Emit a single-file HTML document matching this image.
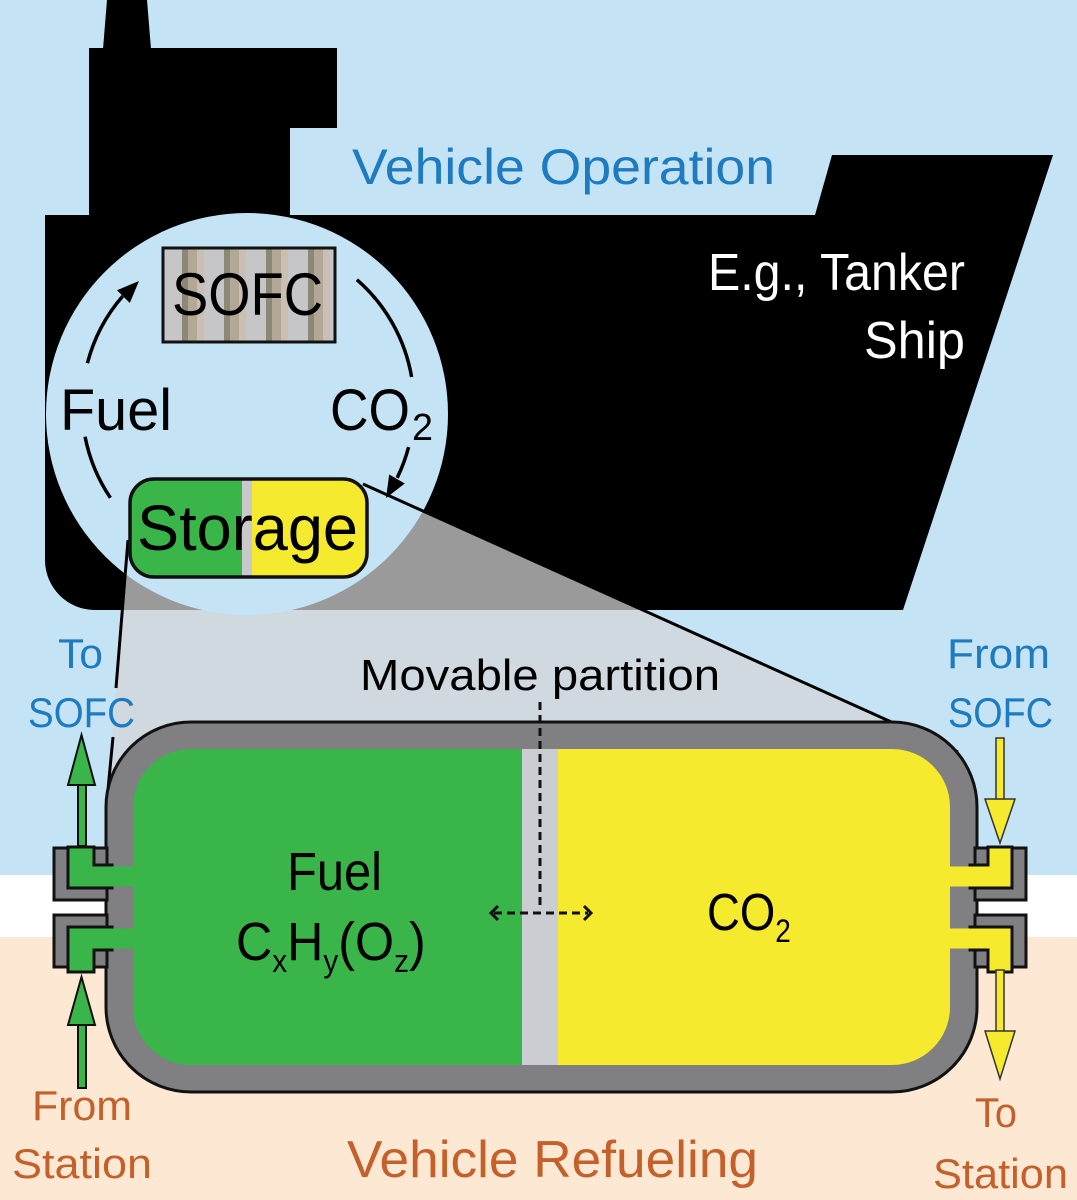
<!DOCTYPE html>
<html>
<head>
<meta charset="utf-8">
<style>
  html,body{margin:0;padding:0;background:#ffffff;}
  svg{display:block;}
  text{font-family:"Liberation Sans", sans-serif;}
</style>
</head>
<body>
<svg width="1077" height="1200" viewBox="0 0 1077 1200" xmlns="http://www.w3.org/2000/svg">
  <defs>
    <pattern id="stripes" x="162" y="0" width="42" height="200" patternUnits="userSpaceOnUse">
      <rect x="0" y="0" width="42" height="200" fill="#c6c6c8"/>
      <rect x="20" y="0" width="6" height="200" fill="#8c8877"/>
      <rect x="26" y="0" width="9" height="200" fill="#b3a795"/>
      <rect x="35" y="0" width="7" height="200" fill="#c9bfb2"/>
    </pattern>
    <clipPath id="hullclip"><rect x="0" y="0" width="1077" height="610"/></clipPath>
    <clipPath id="innerclip"><rect x="133" y="749" width="817" height="316" rx="58" ry="58"/></clipPath>
  </defs>

  <!-- background bands -->
  <rect x="0" y="0" width="1077" height="875" fill="#c4e4f5"/>
  <rect x="0" y="875" width="1077" height="62" fill="#ffffff"/>
  <rect x="0" y="937" width="1077" height="263" fill="#fde9d3"/>

  <!-- ship silhouette -->
  <polygon points="107,0 147,0 151,49 103,49" fill="#000"/>
  <path d="M89,48 H337 V128 H290 V216 H89 Z" fill="#000"/>
  <path d="M45,215 H815 L832,155 H1053 L903,610 H95 A50,50 0 0 1 45,560 Z" fill="#000"/>

  <!-- projection wedge -->
  <polygon points="127,545 363,484 958,752 900,765 107,805" fill="#d0d9df"/>
  <polygon points="127,545 363,484 958,752 900,765 107,805" fill="#9a9a9b" clip-path="url(#hullclip)"/>

  <!-- zoom circle -->
  <circle cx="247" cy="414" r="201" fill="#c4e4f5"/>

  <!-- cycle arcs -->
  <g fill="none" stroke="#000" stroke-width="3.5">
    <path d="M87.4,363.2 A166,166 0 0 1 122.7,296.1"/>
    <path d="M356.9,279.7 A166,166 0 0 1 411.6,377"/>
    <path d="M408.6,447.1 A166,166 0 0 1 397.2,477.8"/>
    <path d="M110.4,497.8 A166,166 0 0 1 85.05,436.7"/>
  </g>
  <polygon points="139,281 129.8,303 117,290.2" fill="#000"/>
  <polygon points="386,498 404.8,483.5 389.2,474.5" fill="#000"/>

  <!-- SOFC box -->
  <rect x="163" y="248" width="172" height="94" fill="url(#stripes)" stroke="#111" stroke-width="3"/>
  <text x="172" y="315" font-size="60" fill="#000" textLength="151" lengthAdjust="spacingAndGlyphs">SOFC</text>

  <!-- Fuel / CO2 labels in circle -->
  <text x="60" y="430" font-size="58" fill="#000" textLength="112" lengthAdjust="spacingAndGlyphs">Fuel</text>
  <text x="330" y="430" font-size="58" fill="#000" textLength="80" lengthAdjust="spacingAndGlyphs">CO</text>
  <text x="412" y="440" font-size="38" fill="#000" textLength="21" lengthAdjust="spacingAndGlyphs">2</text>

  <!-- projection lines -->
  <g stroke="#000" stroke-width="3" fill="none">
    <line x1="128" y1="540" x2="116" y2="688"/>
    <line x1="113" y1="737" x2="107" y2="800"/>
    <line x1="363" y1="484" x2="958" y2="752"/>
  </g>

  <!-- storage box -->
  <g>
    <clipPath id="storeclip"><rect x="130" y="479" width="237" height="98" rx="24" ry="24"/></clipPath>
    <g clip-path="url(#storeclip)">
      <rect x="130" y="479" width="112" height="98" fill="#3ab54a"/>
      <rect x="242" y="479" width="10" height="98" fill="#c9c9cb"/>
      <rect x="252" y="479" width="115" height="98" fill="#f5ea2e"/>
    </g>
    <rect x="130" y="479" width="237" height="98" rx="24" ry="24" fill="none" stroke="#111" stroke-width="3.5"/>
    <text x="137" y="550" font-size="64" fill="#000" textLength="221" lengthAdjust="spacingAndGlyphs">Storage</text>
  </g>

  <!-- ship text -->
  <text x="708" y="290" font-size="52" fill="#ffffff" textLength="257" lengthAdjust="spacingAndGlyphs">E.g., Tanker</text>
  <text x="864" y="358" font-size="52" fill="#ffffff" textLength="101" lengthAdjust="spacingAndGlyphs">Ship</text>

  <!-- title texts -->
  <text x="352" y="184" font-size="50" fill="#1f7bbf" textLength="423" lengthAdjust="spacingAndGlyphs">Vehicle Operation</text>
  <text x="347" y="1177" font-size="52" fill="#c3602b" textLength="411" lengthAdjust="spacingAndGlyphs">Vehicle Refueling</text>

  <!-- Movable partition label -->
  <text x="360" y="690" font-size="44" fill="#000" textLength="360" lengthAdjust="spacingAndGlyphs">Movable partition</text>

  <!-- tank -->
  <rect x="106" y="722" width="871" height="370" rx="85" ry="85" fill="#808082" stroke="#111" stroke-width="3"/>
  <g clip-path="url(#innerclip)">
    <rect x="133" y="749" width="389" height="316" fill="#3ab54a"/>
    <rect x="522" y="749" width="36" height="316" fill="#cbcdd2"/>
    <rect x="558" y="749" width="392" height="316" fill="#f5ea2e"/>
  </g>

  <!-- partition dashed lines -->
  <g stroke="#111" stroke-width="3" fill="none">
    <line x1="540" y1="702" x2="540" y2="907" stroke-dasharray="8,5"/>
    <line x1="494" y1="913" x2="588" y2="913" stroke-dasharray="8,5"/>
    <polyline points="498,906 491,913 498,920"/>
    <polyline points="584,906 591,913 584,920"/>
  </g>

  <!-- tank texts -->
  <text x="287" y="890" font-size="54" fill="#000" textLength="95" lengthAdjust="spacingAndGlyphs">Fuel</text>
  <g transform="translate(236,960) scale(0.93,1)">
    <text x="0" y="0" font-size="54" fill="#000">C<tspan font-size="32" dy="12">x</tspan><tspan dy="-12">H</tspan><tspan font-size="32" dy="12">y</tspan><tspan dy="-12">(O</tspan><tspan font-size="32" dy="12">z</tspan><tspan dy="-12">)</tspan></text>
  </g>
  <g transform="translate(707,930) scale(0.875,1)">
    <text x="0" y="0" font-size="52" fill="#000">CO<tspan font-size="32" dy="12">2</tspan></text>
  </g>

  <!-- left fittings -->
  <rect x="54" y="848" width="53" height="52" fill="#808082" stroke="#111" stroke-width="3"/>
  <polygon points="68,847 94,847 94,865 112,865 112,888 68,888" fill="#3ab54a" stroke="#111" stroke-width="3"/>
  <rect x="54" y="915" width="53" height="52" fill="#808082" stroke="#111" stroke-width="3"/>
  <polygon points="68,927 112,927 112,950 94,950 94,972 68,972" fill="#3ab54a" stroke="#111" stroke-width="3"/>
  <rect x="95" y="866.5" width="42" height="20" fill="#3ab54a"/>
  <rect x="95" y="928.5" width="42" height="20" fill="#3ab54a"/>
  <rect x="69.5" y="848.5" width="23" height="38" fill="#3ab54a"/>
  <rect x="69.5" y="928.5" width="23" height="42" fill="#3ab54a"/>

  <!-- right fittings -->
  <rect x="975" y="848" width="51" height="52" fill="#808082" stroke="#111" stroke-width="3"/>
  <polygon points="1012,847 988,847 988,865 970,865 970,888 1012,888" fill="#f5ea2e" stroke="#111" stroke-width="3"/>
  <rect x="975" y="915" width="51" height="52" fill="#808082" stroke="#111" stroke-width="3"/>
  <polygon points="1012,927 970,927 970,950 988,950 988,972 1012,972" fill="#f5ea2e" stroke="#111" stroke-width="3"/>
  <rect x="946" y="866.5" width="42" height="20" fill="#f5ea2e"/>
  <rect x="946" y="928.5" width="42" height="20" fill="#f5ea2e"/>
  <rect x="989.5" y="848.5" width="21" height="38" fill="#f5ea2e"/>
  <rect x="989.5" y="928.5" width="21" height="42" fill="#f5ea2e"/>

  <!-- left green arrows -->
  <g fill="#3ab54a" stroke="#111" stroke-width="2">
    <rect x="78" y="784" width="8" height="62"/>
    <polygon points="68,785 95,785 81.5,735"/>
    <rect x="78" y="1024" width="8" height="64"/>
    <polygon points="68,1025 95,1025 81.5,977"/>
  </g>

  <!-- right yellow arrows -->
  <g fill="#f5ea2e" stroke="#333" stroke-width="1.5">
    <rect x="996" y="738" width="8" height="62"/>
    <polygon points="985,799 1015,799 1000,843"/>
    <rect x="996" y="970" width="8" height="62"/>
    <polygon points="985,1031 1015,1031 1000,1079"/>
  </g>

  <!-- side labels -->
  <text x="58" y="668" font-size="42" fill="#1f7bbf" textLength="45" lengthAdjust="spacingAndGlyphs">To</text>
  <text x="28" y="727" font-size="42" fill="#1f7bbf" textLength="107" lengthAdjust="spacingAndGlyphs">SOFC</text>
  <text x="947" y="668" font-size="42" fill="#1f7bbf" textLength="103" lengthAdjust="spacingAndGlyphs">From</text>
  <text x="948" y="727" font-size="42" fill="#1f7bbf" textLength="105" lengthAdjust="spacingAndGlyphs">SOFC</text>

  <text x="32" y="1120" font-size="42" fill="#c3602b" textLength="100" lengthAdjust="spacingAndGlyphs">From</text>
  <text x="12" y="1178" font-size="42" fill="#c3602b" textLength="140" lengthAdjust="spacingAndGlyphs">Station</text>
  <text x="975" y="1127" font-size="42" fill="#c3602b" textLength="42" lengthAdjust="spacingAndGlyphs">To</text>
  <text x="933" y="1188" font-size="42" fill="#c3602b" textLength="135" lengthAdjust="spacingAndGlyphs">Station</text>
</svg>
</body>
</html>
